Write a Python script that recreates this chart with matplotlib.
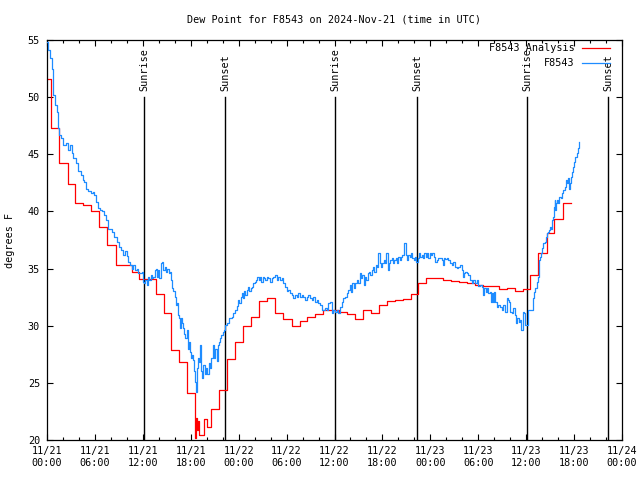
import matplotlib
matplotlib.use("Agg")
import matplotlib.pyplot as plt
from matplotlib.ticker import MultipleLocator, FixedLocator
import datetime as dt

title = "Dew Point for F8543 on 2024-Nov-21 (time in UTC)"
start = dt.datetime(2024, 11, 21, 0, 0)
y_label = "degrees F"
series_names = ["F8543 Analysis", "F8543"]

# Hours since 2024-11-21 00:00 UTC
red_hours = [0, 0.5, 1.5, 2.6, 3.5, 4.55, 5.5, 6.5, 7.55, 8.6, 9.6, 10.6, 11.55,
             13.6, 14.6, 15.5, 16.5, 17.5, 18.55, 18.65, 18.8, 18.9, 19.0, 19.08,
             19.7, 20.0, 20.55, 21.55, 22.5, 23.6, 24.6, 25.5, 26.55, 27.5, 28.55,
             29.6, 30.7, 31.7, 32.55, 33.55, 34.6, 36.6, 37.6, 38.6, 39.6, 40.6,
             41.6, 42.55, 43.55, 44.55, 45.55, 46.5, 47.5, 48.6, 49.6, 50.6, 51.6,
             52.55, 53.6, 54.6, 55.6, 56.6, 57.6, 58.6, 59.6, 60.5, 61.5, 62.55,
             63.5, 64.6, 65.6]
red_vals = [51.6, 47.3, 44.2, 42.4, 40.7, 40.6, 40.0, 38.6, 37.1, 35.3, 35.3, 34.7, 34.1,
            32.8, 31.1, 27.9, 26.8, 24.1, 20.2, 21.9, 20.9, 21.7, 20.6, 20.4,
            21.8, 21.1, 22.7, 24.4, 27.1, 28.6, 30.0, 30.8, 32.2, 32.4, 31.1,
            30.6, 30.0, 30.4, 30.8, 31.0, 31.4, 31.2, 31.0, 30.6, 31.4, 31.1,
            31.8, 32.2, 32.25, 32.3, 32.8, 33.7, 34.2, 34.2, 34.0, 33.9, 33.85,
            33.7, 33.6, 33.5, 33.5, 33.2, 33.3, 33.0, 33.2, 34.4, 36.4, 38.1,
            39.3, 40.7, 40.7]

blue_hours = [0.0, 0.17, 0.38, 0.58, 0.79, 1.0, 1.21, 1.34, 1.5, 1.75, 2.04, 2.34, 2.67,
              2.88, 3.09, 3.3, 3.59, 3.92, 4.26, 4.47, 4.67, 4.88, 5.18, 5.51, 5.72,
              5.93, 6.14, 6.43, 6.64, 6.85, 7.18, 7.39, 7.68, 8.1, 8.43, 8.72, 9.02,
              9.27, 9.56, 9.77, 9.98, 10.18, 10.39, 10.6, 10.81, 11.02, 11.23, 11.43,
              11.65,
              11.85, 11.98, 12.15, 12.27, 12.48, 12.69, 12.81, 12.98, 13.15, 13.31,
              13.48, 13.65, 13.82, 13.94, 14.07, 14.23, 14.4, 14.57, 14.73, 14.9,
              15.07, 15.23, 15.4, 15.53, 15.65, 15.82, 15.99, 16.11, 16.24, 16.36,
              16.49, 16.65, 16.78, 16.9, 17.07, 17.2, 17.32, 17.49, 17.61, 17.74,
              17.91, 18.03, 18.16, 18.32, 18.45, 18.57, 18.7, 18.82, 18.95, 19.08,
              19.2, 19.33, 19.45, 19.58, 19.74, 19.91, 20.08, 20.24, 20.41, 20.58,
              20.74, 20.91, 21.08, 21.25, 21.37, 21.5, 21.66, 21.83, 22.0, 22.16,
              22.33, 22.5, 22.66, 22.83,
              22.92, 23.12, 23.33, 23.54, 23.75, 23.96, 24.08, 24.25, 24.38, 24.5,
              24.67, 24.84, 25.0, 25.21, 25.34, 25.5, 25.67, 25.84, 26.0, 26.17,
              26.34, 26.5, 26.67, 26.84, 27.0, 27.17, 27.34, 27.51, 27.72, 27.92,
              28.13, 28.34, 28.55, 28.76, 28.97, 29.18, 29.39, 29.59, 29.8, 30.01,
              30.22, 30.43, 30.64, 30.85, 31.05, 31.26, 31.47, 31.68, 31.89, 32.1,
              32.31, 32.52, 32.72, 32.93, 33.14, 33.35, 33.56, 33.77, 33.98, 34.19,
              34.39, 34.6, 34.81, 35.02, 35.23, 35.44,
              35.65, 35.85, 36.06, 36.27, 36.48, 36.69, 36.9, 37.11, 37.32, 37.52,
              37.73, 37.94, 38.07, 38.23, 38.4, 38.57, 38.78, 38.99, 39.15, 39.32,
              39.49, 39.65, 39.82, 39.99, 40.16, 40.32, 40.49, 40.66, 40.82, 40.99,
              41.16, 41.33, 41.49, 41.66, 41.82, 41.99, 42.16, 42.32, 42.49, 42.66,
              42.83, 42.99, 43.16, 43.33, 43.49, 43.66, 43.83, 43.99, 44.16, 44.33,
              44.49, 44.66, 44.75, 44.91, 45.08, 45.25, 45.41, 45.58, 45.75, 45.91,
              46.08, 46.25, 46.41, 46.58, 46.75, 46.91, 47.08, 47.25, 47.41, 47.58,
              47.75, 47.92, 48.09, 48.25, 48.42, 48.59,
              48.79, 49.0, 49.21, 49.42, 49.54, 49.71, 49.88, 50.05, 50.25, 50.46,
              50.67, 50.88, 51.09, 51.3, 51.51, 51.72, 51.92, 52.05, 52.22, 52.38,
              52.55, 52.76, 52.97, 53.18, 53.39, 53.59, 53.8, 54.01, 54.22, 54.43,
              54.64, 54.76, 54.93, 55.06, 55.26, 55.47, 55.6, 55.72, 55.89, 56.01,
              56.14, 56.31, 56.52, 56.73, 56.93, 57.14, 57.35, 57.56, 57.77, 57.89,
              57.98, 58.19, 58.4, 58.6, 58.73, 58.9, 59.06, 59.23, 59.4, 59.57,
              59.73, 59.9, 60.07, 60.23,
              60.31, 60.48, 60.69, 60.82, 60.98, 61.15, 61.32, 61.44, 61.57, 61.65,
              61.73, 61.86, 61.98, 62.15, 62.32, 62.48, 62.57, 62.69, 62.82, 62.99,
              63.15, 63.28, 63.4, 63.49, 63.57, 63.65, 63.74, 63.9, 64.03, 64.15,
              64.32, 64.45, 64.57, 64.7, 64.82, 64.95, 65.07, 65.2, 65.32, 65.45,
              65.57, 65.7, 65.82, 65.99, 66.16, 66.32, 66.49, 66.66]
blue_vals = [54.85, 54.1, 53.4, 52.5, 50.2, 49.3, 48.7, 47.3, 46.7, 46.4, 45.8, 46.0, 45.4,
             45.8, 45.1, 44.7, 44.2, 43.5, 43.2, 42.75, 42.6, 42.0, 41.8, 41.6, 41.7,
             41.4, 40.85, 40.3, 40.1, 40.0, 39.7, 39.25, 38.5, 38.2, 37.8, 37.35, 36.9,
             36.6, 36.2, 36.5, 36.1, 35.6, 35.3, 35.0, 35.3, 34.9, 35.0, 34.6,
             34.6,
             34.73, 33.85, 33.7, 34.0, 33.56, 34.3, 34.0, 34.4, 34.15, 34.3,
             34.9, 35.0, 34.3, 34.9, 34.15, 35.46, 35.6, 34.9, 35.17, 34.73,
             35.0, 34.6, 34.73, 34.0, 33.27, 33.0, 32.54, 31.8, 31.96, 30.94,
             30.65, 29.77, 30.65, 30.2, 29.77, 29.3, 28.9, 29.6, 28.0, 28.6,
             27.7, 27.15, 27.44, 27.0, 26.0, 25.1, 24.2, 26.3, 27.15, 26.86,
             28.3, 26.0, 25.4, 26.56, 25.8, 26.27, 25.8, 26.7, 26.3, 27.15,
             28.3, 27.15, 28.0, 26.9, 28.3, 28.6, 28.9, 29.19, 29.48, 29.6,
             30.06, 30.2, 30.2, 30.65,
             30.65, 30.8, 31.1, 31.4, 31.7, 32.25, 31.96, 32.54, 32.83, 32.4,
             33.0, 32.7, 33.1, 33.4, 33.0, 33.3, 33.4, 33.7, 33.85, 34.0,
             34.3, 34.0, 34.3, 33.85, 34.3, 34.15, 34.0, 34.3, 34.15, 33.85,
             34.15, 34.3, 34.4, 34.0, 34.3, 34.0, 34.15, 33.7, 33.4, 33.0,
             33.1, 32.83, 32.7, 32.4, 32.7, 32.54, 32.83, 32.54, 32.7, 32.54,
             32.25, 32.54, 32.7, 32.4, 32.25, 32.54, 32.1, 32.25, 31.96, 31.8,
             31.4, 31.4, 31.55, 31.4, 31.96, 32.1,
             31.14, 31.375, 31.23, 31.375, 31.14, 31.67, 32.1, 32.4, 32.54, 32.83,
             33.125, 33.56, 32.98, 33.71, 33.27, 33.71, 34.0, 33.71, 34.58, 34.15,
             34.44, 33.56, 34.29, 34.0, 34.58, 34.73, 34.44, 34.875, 35.17, 34.73,
             35.31, 35.17, 36.33, 35.46, 35.17, 35.46, 35.75, 35.46, 36.33, 34.875,
             35.46, 35.75, 35.9, 35.46, 35.75, 35.9, 35.46, 36.04, 35.75, 36.04,
             36.19, 36.48, 37.2, 36.19, 35.75, 36.19, 36.04, 36.33, 35.9, 35.75,
             36.04, 35.6, 35.9, 36.33, 36.04, 36.19, 35.9, 36.33, 36.04, 36.33,
             35.9, 36.33, 36.19, 36.33, 36.04, 35.6,
             35.75, 35.9, 35.9, 35.75, 35.31, 35.9, 35.81, 35.9, 35.75, 35.46,
             35.31, 35.6, 35.17, 35.02, 35.17, 35.31, 34.875, 34.29, 34.58, 34.73,
             34.58, 34.44, 34.0, 33.71, 34.0, 33.71, 34.0, 33.48, 33.56, 33.42,
             32.69, 33.27, 32.98, 33.27, 32.83, 32.98, 32.1, 32.83, 32.1, 32.98,
             32.1, 31.67, 31.81, 31.67, 31.375, 31.81, 31.23, 32.4, 32.25, 32.1,
             31.23, 31.08, 31.52, 30.94, 30.21, 30.65, 30.35, 30.5, 29.63, 31.23,
             31.08, 30.06, 30.06, 31.375,
             31.375, 31.375, 31.375, 32.4, 32.98, 33.27, 33.85, 34.29, 34.73, 35.75,
             36.04, 36.33, 36.77, 37.2, 37.35, 37.79, 38.08, 38.2, 38.37, 38.67,
             38.5, 39.25, 39.5, 40.42, 41.0, 40.1, 40.7, 41.0, 40.7, 41.29,
             41.15, 41.58, 41.87, 41.87, 42.17, 42.75, 42.46, 42.9, 42.0, 42.46,
             43.04, 43.48, 43.92, 44.35, 44.79, 45.08, 45.52, 46.1]

sun_hours = [12.19, 22.31, 36.1, 46.37, 60.15, 70.3]
sun_labels = ["Sunrise", "Sunset", "Sunrise", "Sunset", "Sunrise", "Sunset"]

x_tick_hours = list(range(0, 73, 6))
x_tick_labels = [(start + dt.timedelta(hours=h)).strftime("%m/%d\n%H:%M") for h in x_tick_hours]
y_ticks = [20, 25, 30, 35, 40, 45, 50, 55]

plt.rcParams['font.family'] = ['DejaVu Sans Mono']
fs = 7.3

fig = plt.figure(figsize=(6.4, 4.8), dpi=100)
ax = fig.add_axes([47 / 640, 40 / 480, 575 / 640, 400 / 480])

for h, lab in zip(sun_hours, sun_labels):
    ax.plot([h, h], [20, 50], color='black', lw=1.0, zorder=1)
    ax.text(h, 50.5, lab, rotation=90, ha='center', va='bottom', fontsize=fs, zorder=1)

ax.step(red_hours, red_vals, where='post', color='#ff0000', lw=0.9, zorder=2)
ax.step(blue_hours, blue_vals, where='post', color='#1e8cff', lw=0.9, zorder=3)

ax.set_xlim(0, 72)
ax.set_ylim(20, 55)
ax.xaxis.set_major_locator(FixedLocator(x_tick_hours))
ax.xaxis.set_minor_locator(MultipleLocator(2))
ax.set_xticklabels(x_tick_labels)
ax.set_yticks(y_ticks)
ax.set_yticklabels([str(v) for v in y_ticks])
for t in ax.get_xticklabels():
    t.set_linespacing(1.35)
ax.tick_params(which='both', direction='in', top=True, right=True, labelsize=fs, width=0.8)
ax.tick_params(which='major', length=4, pad=4)
ax.tick_params(which='minor', length=2)
ax.tick_params(axis='y', pad=5)
for s in ax.spines.values():
    s.set_linewidth(0.9)

# legend (gnuplot style, right-aligned text)
ax.text(0.918, 0.979, series_names[0], transform=ax.transAxes, ha='right', va='center', fontsize=fs)
ax.plot([0.930, 0.979], [0.979, 0.979], transform=ax.transAxes, color='#ff0000', lw=0.9)
ax.text(0.918, 0.943, series_names[1], transform=ax.transAxes, ha='right', va='center', fontsize=fs)
ax.plot([0.930, 0.979], [0.943, 0.943], transform=ax.transAxes, color='#1e8cff', lw=0.9)

fig.text(334 / 640, 1 - 20 / 480, title, ha='center', va='center', fontsize=fs)
fig.text(10 / 640, 0.5, y_label, rotation=90, ha='center', va='center', fontsize=fs)

fig.savefig("out.png", dpi=100)
